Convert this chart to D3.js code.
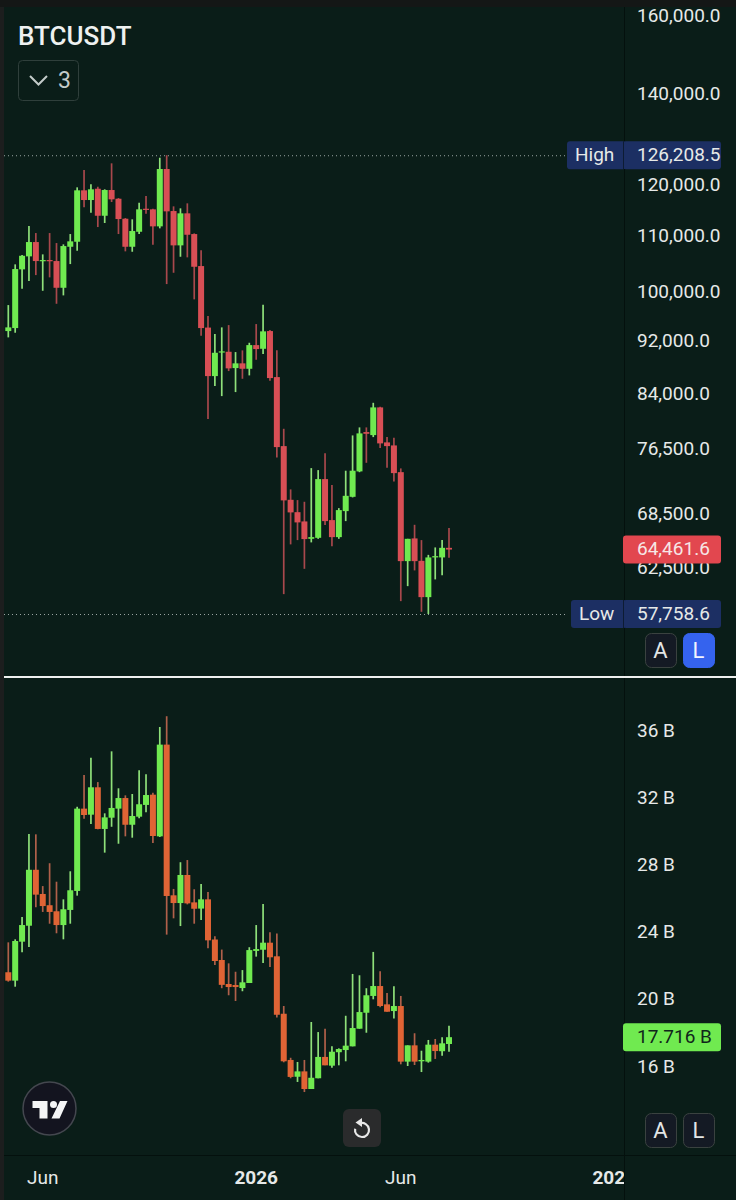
<!DOCTYPE html>
<html><head><meta charset="utf-8">
<script src="https://d3js.org/d3.v7.min.js"></script>
<style>html,body{margin:0;padding:0;background:#0a1d18}svg{display:block}text{font-family:Roboto,sans-serif}</style>
</head><body><svg id="c" width="736" height="1200"></svg>
<script>
const priceOpen=[93535,94014,103907,106232,108856,105440,105566,105386,100697,107985,108912,118885,116934,119209,113844,118946,117193,113267,107985,110780,115212,115094,111805,123279,114761,108242,114312,110347,104490,94094,86628,90202,90294,87819,88529,87715,91326,90756,93538,86482,76886,70165,68700,67627,65653,65764,72685,67779,65842,68827,70523,73643,78746,78342,82129,77376,76977,73550,63203,65697,63235,59442,63603,63603,64652];
const priceClose=[94126,103960,106340,108856,105386,105566,105440,100697,108113,108986,118885,116934,119087,113844,118946,117073,113209,107985,110917,115094,115016,111805,123279,114702,108242,114312,110218,104366,94014,86628,90140,90356,87774,88529,87715,91326,90710,93490,86336,76756,70094,68676,67515,65620,65842,72685,67663,65842,68944,70642,73730,78571,78517,82129,77244,76886,73428,63203,65653,63203,59442,63603,63743,64652,64461.6];
const priceHigh=[97772,104796,106469,111862,110539,106594,110539,108670,108428,110350,119491,123068,120102,119613,119087,124481,117332,113401,113151,116397,117730,115212,125674,126208.5,115683,115290,116277,110479,107326,95955,93061,94126,94495,90248,90510,91690,94659,97822,93700,90510,79190,71421,70130,69930,74058,73806,75971,71942,69178,73730,78300,79378,79378,82774,82213,78076,77984,74020,65653,67240,65509,63882,64696,65509,66861];
const priceLow=[92535,93270,100526,101856,102897,100184,102498,97988,99398,104846,107253,115486,114428,111673,112441,116536,110350,107143,107070,110350,114232,108354,111427,101332,103304,106160,106052,98728,92787,80508,85164,83725,87372,84300,86234,86730,89072,89933,85950,75421,59747,65032,65509,62380,65254,65653,67202,64839,65653,67663,70451,73546,74730,78076,76626,74096,72402,59038,60566,62210,57973,57758.6,61264,61713,63559];

const volOpen=[21.58,21.08,23.40,24.35,27.68,26.24,25.57,25.21,24.39,25.29,26.42,31.32,30.96,32.59,30.11,30.78,31.32,31.95,30.36,30.84,31.54,32.15,29.67,35.13,26.16,25.70,27.37,25.74,25.37,25.92,23.53,22.31,20.88,20.82,20.64,20.94,22.85,22.92,23.34,22.53,19.11,16.36,15.36,15.68,14.63,15.27,16.54,16.02,16.82,16.95,17.17,18.22,19.17,20.17,20.76,19.67,19.27,19.57,16.26,17.23,16.28,16.26,17.27,16.88,17.31];
const volClose=[21.08,23.44,24.39,27.68,26.20,25.52,25.17,24.39,25.33,26.46,31.32,30.94,32.59,30.11,30.80,31.36,31.95,30.36,30.88,31.58,32.13,29.69,35.13,26.12,25.70,27.37,25.68,25.36,25.92,23.48,22.25,20.83,20.70,20.70,20.98,22.90,22.96,23.34,22.47,19.05,16.28,15.35,15.68,14.63,15.30,16.54,16.04,16.85,17.01,17.21,18.26,19.21,20.21,20.76,19.57,19.23,19.57,16.26,17.23,16.26,16.36,17.27,16.89,17.35,17.716];
const volHigh=[23.36,23.54,24.87,29.81,29.79,26.71,28.07,26.97,25.92,27.59,31.43,33.32,34.35,32.90,31.04,34.73,32.53,32.11,32.19,33.60,33.36,32.27,36.18,36.82,26.54,28.13,28.26,26.52,26.83,26.36,23.72,22.93,22.11,21.61,21.71,23.07,24.39,25.64,23.96,23.88,19.57,16.49,16.24,16.36,18.62,18.02,18.22,17.17,17.05,18.99,21.48,21.40,20.63,22.79,21.64,20.35,20.74,20.17,17.23,17.95,16.91,17.55,17.61,17.71,18.40];
const volLow=[21.02,20.72,22.77,23.08,25.45,25.17,24.47,23.90,23.54,24.47,26.14,30.72,30.40,30.09,28.70,30.24,29.23,29.67,29.59,30.74,31.10,29.27,29.63,23.82,24.79,24.33,25.62,24.47,24.69,23.01,22.01,20.63,20.21,19.87,20.45,20.94,22.51,22.13,21.89,18.88,16.22,15.27,15.05,14.45,14.63,15.27,16.04,15.90,16.04,16.28,17.17,18.22,17.98,19.97,19.49,19.23,18.82,16.10,16.00,16.06,15.64,16.20,16.42,16.61,16.85];

const priceTicks=[160000,140000,120000,110000,100000,92000,84000,76500,68500,62500];
const volTicks=[36,32,28,24,20,16];
const timeTicks=[{i:5,t:"Jun",b:false},{i:36,t:"2026",b:true},{i:57,t:"Jun",b:false},{i:88,t:"2027",b:true}];
const lastPrice=64461.6, highPrice=126208.5, lowPrice=57758.6, lastVol=17.716;

const BG="#0a1d18",UP="#70ea50",DN="#d84f55",DNW="#a8484c",DNV="#e06435",DNVW="#b0604a",UPW="#8fe07a",TXT="#e6e9e8",NAVY="#1c2f63";
const svg=d3.select("#c");
const W=736,H=1200,AX=624;
const defs=svg.append("defs");
defs.append("clipPath").attr("id","plot").append("rect").attr("x",4).attr("y",0).attr("width",AX-4).attr("height",H);
svg.append("rect").attr("width",W).attr("height",H).attr("fill",BG);
svg.append("rect").attr("width",4).attr("height",H).attr("fill","#1c1e1e");
svg.append("rect").attr("width",W).attr("height",7).attr("fill","#141716");
svg.append("rect").attr("x",AX).attr("y",7).attr("width",1).attr("height",H).attr("fill","#04100d");
svg.append("rect").attr("x",4).attr("y",1155).attr("width",W).attr("height",1).attr("fill","#04100d");
svg.append("rect").attr("x",4).attr("y",676).attr("width",W).attr("height",2).attr("fill","#eef0ef");

const x=d3.scaleLinear().domain([0,64]).range([8.3,449]);
const yP=d3.scaleLog().domain([lowPrice,160000]).range([614,16]);
const yV=d3.scaleLinear().domain([16,36]).range([1066,730]);

function candles(o,c,h,l,y,up,dn,upW,dnW){
  const g=svg.append("g");
  const idx=d3.range(o.length);
  g.selectAll("line").data(idx).join("line")
   .attr("x1",i=>x(i)).attr("x2",i=>x(i)).attr("y1",i=>y(h[i])).attr("y2",i=>y(l[i]))
   .attr("stroke",i=>c[i]>=o[i]?upW:dnW).attr("stroke-width",1.7);
  g.selectAll("rect").data(idx).join("rect")
   .attr("x",i=>x(i)-3).attr("width",6)
   .attr("y",i=>Math.min(y(o[i]),y(c[i])))
   .attr("height",i=>Math.max(1.2,Math.abs(y(o[i])-y(c[i]))))
   .attr("fill",i=>c[i]>=o[i]?up:dn);
}
[highPrice,lowPrice].forEach(v=>{
  svg.append("line").attr("x1",4).attr("x2",568).attr("y1",yP(v)+.5).attr("y2",yP(v)+.5)
   .attr("stroke","#9aa5a2").attr("stroke-width",1).attr("stroke-dasharray","1 3");
});
candles(priceOpen,priceClose,priceHigh,priceLow,yP,UP,DN,UPW,DNW);
candles(volOpen,volClose,volHigh,volLow,yV,UP,DNV,UPW,DNVW);

const axisFont="19px";
const gP=svg.append("g").attr("transform",`translate(${AX},0)`)
 .call(d3.axisRight(yP).tickValues(priceTicks).tickSize(0).tickPadding(13).tickFormat(d=>d3.format(",.1f")(d)));
gP.select(".domain").remove();
gP.selectAll("text").attr("fill",TXT).attr("dy","0.28em").style("font-size",axisFont).style("font-family","Roboto");
const gV=svg.append("g").attr("transform",`translate(${AX},0)`)
 .call(d3.axisRight(yV).tickValues(volTicks).tickSize(0).tickPadding(13).tickFormat(d=>d+" B"));
gV.select(".domain").remove();
gV.selectAll("text").attr("fill",TXT).attr("dy","0.32em").style("font-size",axisFont).style("font-family","Roboto");

const gT=svg.append("g").attr("clip-path","url(#plot)");
gT.selectAll("text").data(timeTicks).join("text")
 .attr("x",d=>x(d.i)).attr("y",1184).attr("text-anchor","middle")
 .attr("fill",TXT).style("font-size","19px").style("font-weight",d=>d.b?700:400).text(d=>d.t);

function label(v,y,txt,fill,col,side){
  const yy=y(v);
  svg.append("rect").attr("x",AX-1).attr("y",yy-14).attr("width",98).attr("height",28).attr("rx",3).attr("fill",fill);
  svg.append("text").attr("x",AX+13).attr("y",yy).attr("dy","0.3em").attr("fill",col).style("font-size",axisFont).text(txt);
  if(side){
    svg.append("rect").attr("x",side.x).attr("y",yy-14).attr("width",AX-side.x+2).attr("height",28).attr("rx",3).attr("fill",fill);
    svg.append("rect").attr("x",AX-1).attr("y",yy-14).attr("width",1).attr("height",28).attr("fill","#0d1c33");
    svg.append("text").attr("x",side.tx).attr("y",yy).attr("dy","0.3em").attr("fill",col).style("font-size",axisFont).text(side.t);
  }
}
label(highPrice,yP,d3.format(",.1f")(highPrice),NAVY,TXT,{x:567,tx:575,t:"High"});
label(lowPrice,yP,d3.format(",.1f")(lowPrice),NAVY,TXT,{x:571,tx:579,t:"Low"});
label(lastPrice,yP,d3.format(",.1f")(lastPrice),"#e2474f","#f6e6e6");
label(lastVol,yV,d3.format(".3f")(lastVol)+" B",UP,"#10261b");

svg.append("text").attr("x",18).attr("y",45).attr("fill","#eef1f0").style("font-size","26px").style("font-weight",500).text("BTCUSDT");
svg.append("rect").attr("x",18.5).attr("y",60.5).attr("width",60).attr("height",40).attr("rx",4).attr("fill","none").attr("stroke","#2f3f3b");
svg.append("path").attr("d","M30 76 L38.5 84.5 L47 76").attr("fill","none").attr("stroke","#c3cbc9").attr("stroke-width",2);
svg.append("text").attr("x",58).attr("y",88).attr("fill","#c3cbc9").style("font-size","23px").text("3");

function btn(xx,yy,t,fill,stroke,col){
  svg.append("rect").attr("x",xx+.5).attr("y",yy+.5).attr("width",31).attr("height",34).attr("rx",6).attr("fill",fill).attr("stroke",stroke);
  svg.append("text").attr("x",xx+15.5).attr("y",yy+17).attr("dy","0.35em").attr("text-anchor","middle").attr("fill",col).style("font-size","22px").text(t);
}
btn(645,633,"A","#141a24","#3a4240","#e3e6e6");
btn(683,633,"L","#3563ee","#3563ee","#f1f4ff");
btn(645,1113,"A","#141a24","#3a4240","#e3e6e6");
btn(683,1113,"L","#141a24","#3a4240","#e3e6e6");

svg.append("circle").attr("cx",49.5).attr("cy",1108.5).attr("r",26.5).attr("fill","#13141f").attr("stroke","#44474f").attr("stroke-width",1.5);
svg.append("path").attr("fill","#f4f5f6").attr("d","M32.5 1101 H47.5 V1118.5 H39.5 V1108 H32.5 Z M60 1101 H67.5 L59.5 1118.5 H51.5 Z");
svg.append("circle").attr("cx",53.5).attr("cy",1104.5).attr("r",3.5).attr("fill","#f4f5f6");

svg.append("rect").attr("x",343).attr("y",1109).attr("width",38).attr("height",38).attr("rx",6).attr("fill","#2a2b2c");
svg.append("path").attr("d",d3.arc()({innerRadius:7,outerRadius:7,startAngle:-0.3,endAngle:4.9})).attr("transform","translate(362,1130)").attr("fill","none").attr("stroke","#e8e8e8").attr("stroke-width",2.2);
svg.append("path").attr("d","M362 1118 L355.5 1122.5 L362 1127 Z").attr("fill","#e8e8e8");
</script></body></html>
